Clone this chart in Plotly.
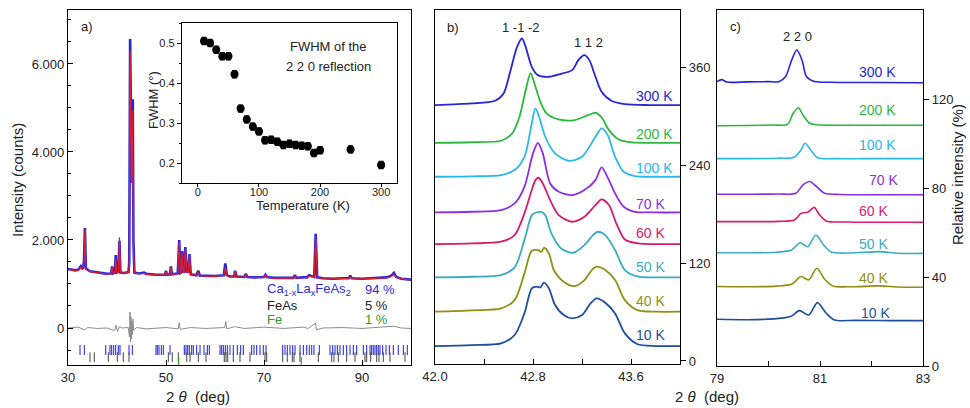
import plotly.graph_objects as go

# ---------------- Panel a: full pattern ----------------
obs_x = [30.0, 31.5, 32.2, 32.6, 33.0, 33.25, 33.45, 33.65, 34.5, 36.0, 38.0, 38.8, 39.0, 39.2, 39.55, 39.75,
         39.95, 40.3, 40.5, 40.7, 41.5, 42.35, 42.5, 42.68, 42.85, 42.98, 43.1, 43.22, 43.35, 43.55, 44.5,
         45.5, 46.0, 48.0, 49.8, 50.0, 50.2, 50.8, 51.0, 51.2, 52.4, 52.7, 52.95, 53.1, 53.3, 53.55, 53.7,
         53.95, 54.25, 54.6, 54.8, 55.05, 56.2, 56.6, 56.9, 58.0, 60.0, 61.8, 62.1, 62.4, 63.0, 63.9, 64.1,
         64.4, 66.0, 66.3, 66.6, 68.0, 70.0, 70.3, 70.6, 72.0, 74.0, 76.0, 76.3, 76.6, 78.0, 78.8, 79.2,
         80.25, 80.55, 80.85, 82.0, 84.0, 86.0, 87.3, 87.6, 87.9, 90.0, 92.0, 93.0, 95.0, 96.0, 96.5, 97.0,
         98.0, 100.0]
obs_y = [1340, 1310, 1330, 1400, 1340, 1500, 2270, 1350, 1290, 1270, 1230, 1240, 1400, 1240, 1260, 1660,
         1260, 1280, 1980, 1260, 1250, 1270, 1500, 6570, 4000, 3300, 4200, 5200, 2000, 1260, 1240,
         1260, 1230, 1210, 1210, 1300, 1210, 1220, 1400, 1220, 1240, 2000, 1250, 1260, 1750, 1260, 1280,
         1840, 1280, 1280, 1680, 1220, 1200, 1300, 1190, 1190, 1180, 1200, 1470, 1200, 1170, 1170, 1300,
         1170, 1160, 1230, 1160, 1150, 1160, 1210, 1160, 1140, 1140, 1140, 1200, 1140, 1150, 1150, 1200,
         1160, 2140, 1150, 1130, 1120, 1130, 1130, 1190, 1130, 1120, 1130, 1150, 1150, 1190, 1250, 1160,
         1120, 1100]
calc_y = [1330, 1300, 1320, 1380, 1330, 1480, 2230, 1330, 1280, 1260, 1225, 1235, 1380, 1235, 1255, 1580,
          1255, 1275, 2060, 1255, 1245, 1265, 1450, 6300, 3800, 3300, 4000, 4950, 1900, 1250, 1235,
          1240, 1225, 1205, 1205, 1280, 1205, 1215, 1380, 1215, 1235, 1960, 1245, 1255, 1700, 1255, 1270,
          1800, 1270, 1270, 1650, 1215, 1195, 1270, 1185, 1185, 1175, 1195, 1380, 1195, 1165, 1165, 1290,
          1165, 1155, 1210, 1155, 1145, 1155, 1195, 1155, 1135, 1135, 1135, 1180, 1135, 1145, 1145, 1180,
          1155, 2100, 1145, 1125, 1115, 1125, 1125, 1170, 1125, 1115, 1125, 1140, 1140, 1170, 1220, 1150,
          1115, 1095]
diff_x = [30, 32, 33.4, 34, 36, 38, 39.5, 39.8, 40.1, 40.5, 41, 42.3, 42.55, 42.65, 42.75, 42.85, 42.95,
          43.05, 43.15, 43.25, 43.4, 44, 46, 48, 50, 52.5, 52.7, 52.9, 55, 58, 60, 62, 62.2, 62.4, 64, 66,
          70, 74, 78, 79, 80.5, 80.7, 82, 86, 90, 94, 96.5, 98, 100]
diff_y = [0, 20, -40, 10, -10, 0, -60, 60, -80, 30, 0, 10, -200, 360, -320, 250, -250, 150, -150, 200,
          -50, 10, -20, 0, 10, -20, 120, -30, 10, -10, 0, 10, 150, -20, 30, -10, 20, -10, 20, -10, 110,
          -40, 0, 10, -10, 20, 40, 0, -10]
ticks_main = [32.45, 33.33, 37.69, 38.57, 38.91, 39.32, 39.73, 40.27, 40.61, 42.45, 43.13, 47.96, 48.23,
              48.57, 49.05, 49.46, 50.82, 53.74, 54.08, 54.42, 54.76, 55.24, 55.58, 56.26, 56.94, 57.76,
              58.44, 58.84, 61.02, 61.36, 61.70, 62.11, 62.52, 63.06, 63.74, 64.56, 65.24, 65.78, 67.48,
              67.96, 68.50, 69.18, 69.86, 70.41, 73.81, 74.29, 74.76, 75.31, 75.85, 76.33, 77.35, 78.03,
              78.71, 79.25, 79.73, 80.20, 81.29, 83.47, 84.01, 84.49, 84.97, 85.51, 86.19, 86.87, 87.55,
              88.23, 88.91, 90.27, 90.95, 91.63, 91.97, 92.31, 92.65, 92.99, 93.33, 93.67, 94.22, 94.90,
              95.58, 96.39, 97.41, 98.44, 99.25]
ticks_feas = [34.49, 35.37, 38.23, 40.07, 41.29, 42.45, 50.48, 51.29, 52.52, 54.22, 54.90, 56.60, 58.16,
              61.90, 62.24, 62.59, 63.74, 65.10, 67.14, 70.20, 70.54, 73.81, 74.76, 75.78, 76.12, 77.35,
              81.09, 83.81, 84.29, 85.17, 86.87, 88.57, 90.61, 90.95, 91.77, 92.99, 93.47, 94.35, 95.71,
              98.78]
ticks_fe = [52.6, 77.6]
phase_names = ["Ca<sub>1-x</sub>La<sub>x</sub>FeAs<sub>2</sub>", "FeAs", "Fe"]
phase_pct = ["94 %", "5 %", "1 %"]

# ---------------- Inset: FWHM ----------------
fwhm_T = [10, 20, 30, 40, 50, 60, 70, 80, 90, 100, 110, 120, 130, 140, 150, 160, 170, 180, 190, 200, 250, 300]
fwhm_v = [0.505, 0.500, 0.483, 0.467, 0.467, 0.422, 0.336, 0.309, 0.291, 0.279, 0.257, 0.258, 0.253,
          0.245, 0.248, 0.245, 0.243, 0.242, 0.225, 0.232, 0.234, 0.195]
fwhm_err = [0.008] * len(fwhm_T)

# ---------------- Panel b: 1 -1 -2 / 1 1 2 ----------------
temps = ["300 K", "200 K", "100 K", "70 K", "60 K", "50 K", "40 K", "10 K"]
b300_x = [42.00, 42.30, 42.49, 42.56, 42.61, 42.67, 42.71, 42.74, 42.79, 42.84, 42.93, 43.02, 43.12, 43.17, 43.22, 43.26, 43.31, 43.36, 43.44, 43.55, 43.75, 44.00]
b300_y = [313.5, 315.5, 318.8, 327.8, 352.2, 384.9, 395.1, 384.9, 360.4, 350.2, 348.2, 351.4, 356.3, 368.6, 374.7, 368.6, 348.2, 329.8, 318.8, 314.7, 313.5, 313.5]
b200_x = [42.00, 42.30, 42.54, 42.63, 42.69, 42.74, 42.78, 42.82, 42.86, 42.91, 43.01, 43.14, 43.25, 43.31, 43.36, 43.42, 43.50, 43.61, 43.80, 44.00]
b200_y = [267.3, 268.0, 269.8, 278.8, 299.2, 331.8, 352.5, 335.9, 317.5, 303.3, 295.9, 295.1, 301.2, 304.1, 298.4, 282.8, 271.4, 267.7, 267.3, 267.3]
b100_x = [42.00, 42.30, 42.54, 42.65, 42.73, 42.79, 42.82, 42.85, 42.90, 42.98, 43.09, 43.20, 43.31, 43.36, 43.41, 43.47, 43.54, 43.63, 43.80, 44.00]
b100_y = [225.7, 226.2, 227.7, 233.9, 250.2, 291.0, 309.4, 299.2, 274.7, 254.3, 245.3, 250.2, 274.7, 284.9, 276.7, 250.2, 231.8, 226.5, 225.7, 225.7]
b70_x = [42.00, 42.30, 42.54, 42.65, 42.73, 42.80, 42.84, 42.88, 42.94, 43.01, 43.12, 43.22, 43.31, 43.36, 43.42, 43.47, 43.54, 43.63, 43.80, 44.00]
b70_y = [182.0, 182.8, 184.9, 193.0, 213.4, 254.3, 267.3, 254.3, 217.5, 207.3, 203.2, 209.4, 221.6, 237.2, 221.6, 205.3, 188.9, 182.8, 182.0, 182.0]
b60_x = [42.00, 42.30, 42.54, 42.65, 42.73, 42.79, 42.82, 42.845, 42.88, 42.94, 43.01, 43.12, 43.22, 43.31, 43.36, 43.42, 43.48, 43.55, 43.66, 43.80, 44.00]
b60_y = [143.2, 144.0, 146.1, 154.2, 180.8, 209.4, 221.6, 224.5, 217.5, 197.1, 178.7, 170.6, 176.7, 191.0, 197.9, 191.0, 168.5, 148.9, 144.0, 143.2, 143.2]
b50_x = [42.00, 42.30, 42.54, 42.65, 42.73, 42.79, 42.82, 42.87, 42.90, 42.95, 43.03, 43.13, 43.22, 43.29, 43.33, 43.39, 43.47, 43.55, 43.66, 43.80, 44.00]
b50_y = [102.4, 103.2, 105.3, 114.7, 148.1, 178.7, 181.6, 182.4, 178.7, 156.3, 137.9, 132.6, 142.0, 154.2, 158.3, 154.2, 135.9, 111.4, 103.2, 102.4, 102.4]
b40_x = [42.00, 42.30, 42.54, 42.65, 42.73, 42.79, 42.84, 42.87, 42.89, 42.93, 42.97, 43.05, 43.14, 43.22, 43.28, 43.32, 43.39, 43.47, 43.55, 43.65, 43.80, 44.00]
b40_y = [60.4, 62.0, 64.4, 74.6, 107.3, 135.1, 135.9, 133.8, 138.7, 131.8, 111.4, 97.1, 91.8, 99.1, 111.4, 115.5, 111.4, 99.1, 74.6, 62.4, 60.4, 60.4]
b10_x = [42.00, 42.30, 42.54, 42.65, 42.73, 42.79, 42.83, 42.86, 42.89, 42.93, 42.98, 43.05, 43.12, 43.20, 43.27, 43.32, 43.39, 43.47, 43.55, 43.65, 43.80, 44.00]
b10_y = [18.3, 19.5, 21.6, 31.8, 58.3, 89.0, 91.0, 90.2, 95.9, 89.0, 68.5, 56.3, 52.2, 56.3, 70.6, 76.7, 71.4, 58.3, 33.8, 20.8, 18.3, 18.3]

# ---------------- Panel c: 2 2 0 ----------------
c300_x = [79.00, 79.09, 79.19, 79.60, 80.00, 80.20, 80.33, 80.45, 80.55, 80.65, 80.74, 80.89, 81.20, 82.00, 83.00]
c300_y = [127.8, 128.7, 127.6, 127.7, 127.8, 127.8, 130.0, 137.5, 142.0, 137.5, 130.0, 127.9, 127.5, 127.4, 127.3]
c200_x = [79.00, 79.60, 80.10, 80.37, 80.48, 80.58, 80.67, 80.80, 80.95, 81.40, 82.20, 83.00]
c200_y = [108.0, 108.1, 108.3, 108.6, 113.6, 116.1, 112.8, 109.1, 108.4, 108.2, 108.2, 108.2]
c100_x = [79.00, 79.60, 80.20, 80.50, 80.63, 80.71, 80.82, 80.95, 81.30, 82.20, 83.00]
c100_y = [93.2, 93.2, 93.4, 93.8, 97.1, 100.1, 97.1, 93.6, 93.2, 93.2, 93.2]
c70_x = [79.00, 79.60, 80.20, 80.53, 80.67, 80.80, 80.92, 81.09, 81.40, 82.20, 83.00]
c70_y = [77.2, 77.2, 77.3, 77.6, 81.4, 82.9, 80.9, 77.6, 77.1, 77.0, 77.0]
c60_x = [79.00, 79.60, 80.20, 80.50, 80.63, 80.76, 80.89, 80.97, 81.12, 81.50, 82.20, 83.00]
c60_y = [64.9, 64.9, 65.0, 65.6, 68.6, 69.1, 71.3, 68.6, 65.2, 64.7, 64.6, 64.6]
c50_x = [79.00, 79.60, 80.15, 80.45, 80.61, 80.76, 80.92, 81.07, 81.22, 81.60, 82.16, 82.50, 83.00]
c50_y = [50.9, 50.9, 51.1, 52.1, 55.4, 53.6, 58.9, 54.4, 51.2, 50.8, 51.4, 50.7, 50.6]
c40_x = [79.00, 79.60, 80.15, 80.46, 80.63, 80.78, 80.94, 81.09, 81.25, 81.60, 82.16, 82.50, 83.00]
c40_y = [35.7, 35.6, 35.9, 36.9, 40.2, 38.7, 43.9, 39.0, 36.0, 35.6, 36.0, 35.5, 35.4]
c10_x = [79.00, 79.60, 80.10, 80.43, 80.60, 80.78, 80.95, 81.12, 81.28, 81.70, 82.40, 83.00]
c10_y = [21.0, 20.8, 21.2, 22.2, 24.9, 22.9, 28.5, 23.7, 20.7, 20.5, 20.4, 20.4]

colors = ["#2626d8", "#2cb83c", "#2ab8ea", "#8c2ee2", "#d81a6c", "#3aabc2", "#8f8f14", "#1d4f9b"]

b_x = [b300_x, b200_x, b100_x, b70_x, b60_x, b50_x, b40_x, b10_x]
b_y = [b300_y, b200_y, b100_y, b70_y, b60_y, b50_y, b40_y, b10_y]
c_x = [c300_x, c200_x, c100_x, c70_x, c60_x, c50_x, c40_x, c10_x]
c_y = [c300_y, c200_y, c100_y, c70_y, c60_y, c50_y, c40_y, c10_y]

W, H = 970, 408
def fx(p):
    return p / W
def fy(p):
    return 1 - p / H

FONT = "Liberation Sans, Arial, sans-serif"
fig = go.Figure()

# panel a traces
fig.add_trace(go.Scatter(x=obs_x, y=obs_y, mode="lines", line=dict(color="#2323e0", width=2.6),
                         xaxis="x", yaxis="y", hoverinfo="skip"))
fig.add_trace(go.Scatter(x=obs_x, y=calc_y, mode="lines", line=dict(color="#e0202a", width=1.2),
                         xaxis="x", yaxis="y", hoverinfo="skip"))
fig.add_trace(go.Scatter(x=diff_x, y=diff_y, mode="lines", line=dict(color="#8c8c8c", width=1),
                         xaxis="x", yaxis="y", hoverinfo="skip"))
for tx, ty, col in [(ticks_main, -500, "#3232e0"), (ticks_feas, -660, "#555555"), (ticks_fe, -770, "#2a9a2a")]:
    fig.add_trace(go.Scatter(x=tx, y=[ty] * len(tx), mode="markers",
                             marker=dict(symbol="line-ns", size=7, line=dict(width=1.1, color=col)),
                             xaxis="x", yaxis="y", hoverinfo="skip"))

# inset
fig.add_trace(go.Scatter(x=fwhm_T, y=fwhm_v, mode="markers",
                         marker=dict(color="black", size=8),
                         error_y=dict(type="data", array=fwhm_err, color="black", thickness=2, width=2.5),
                         xaxis="x2", yaxis="y2", hoverinfo="skip"))

# panel b and c
for i in range(len(temps)):
    fig.add_trace(go.Scatter(x=b_x[i], y=b_y[i], mode="lines", line=dict(color=colors[i], width=1.8, shape="spline", smoothing=0.8),
                             xaxis="x3", yaxis="y3", hoverinfo="skip"))
    fig.add_trace(go.Scatter(x=c_x[i], y=c_y[i], mode="lines", line=dict(color=colors[i], width=1.6, shape="spline", smoothing=0.8),
                             xaxis="x4", yaxis="y4", hoverinfo="skip"))

def axc(size=13):
    return dict(showline=True, mirror=True, linecolor="black", linewidth=1.3, showgrid=False,
                zeroline=False, tickcolor="black", automargin=False,
                tickfont=dict(size=size, color="#222", family=FONT))

layout = dict(
    template="none",
    width=W, height=H, margin=dict(l=0, r=0, t=0, b=0, pad=0), showlegend=False,
    paper_bgcolor="white", plot_bgcolor="white", font=dict(family=FONT, color="#222"),
    xaxis=dict(domain=[fx(68), fx(411)], range=[30, 100], anchor="y", tickvals=[30, 50, 70, 90],
               ticks="inside", ticklen=5, **axc()),
    yaxis=dict(domain=[fy(365), fy(10)], range=[-841, 7227], anchor="x", tickvals=[0, 2000, 4000, 6000],
               ticktext=["0", "2.000", "4.000", "6.000"], ticks="inside", ticklen=5,
               minor=dict(dtick=500, tick0=0, ticks="inside", ticklen=3, tickcolor="black"), **axc()),
    xaxis2=dict(domain=[fx(182), fx(397)], range=[-26, 326], anchor="y2", tickvals=[0, 100, 200, 300],
                ticks="outside", ticklen=3, ticklabelstandoff=-4, **axc(11)),
    yaxis2=dict(domain=[fy(183), fy(23)], range=[0.15, 0.55], anchor="x2", tickvals=[0.2, 0.3, 0.4, 0.5],
                ticktext=["0.2", "0.3", "0.4", "0.5"], ticks="outside", ticklen=4,
                minor=dict(dtick=0.05, tick0=0, ticks="outside", ticklen=2, tickcolor="black"), **axc(11)),
    xaxis3=dict(domain=[fx(435), fx(680)], range=[42.0, 44.0], anchor="y3",
                tickvals=[42.0, 42.8, 43.6], ticktext=["42.0", "42.8", "43.6"],
                minor=dict(tickvals=[42.4, 43.2], ticks="inside", ticklen=5, tickcolor="black"),
                ticks="inside", ticklen=5, **axc()),
    yaxis3=dict(domain=[fy(364), fy(10)], range=[-3.7, 430], anchor="x3", side="right",
                tickvals=[0, 120, 240, 360], ticks="outside", ticklen=5, **axc()),
    xaxis4=dict(domain=[fx(717), fx(923)], range=[79, 83], anchor="y4",
                tickvals=[79, 81, 83], ticktext=["79", "81", "83"],
                minor=dict(tickvals=[80, 82], ticks="inside", ticklen=5, tickcolor="black"),
                ticks="inside", ticklen=5, **axc()),
    yaxis4=dict(domain=[fy(366), fy(10)], range=[0, 160], anchor="x4", side="right",
                tickvals=[0, 40, 80, 120], ticks="outside", ticklen=5, **axc()),
)
fig.update_layout(**layout)

ann = []
def A(text, x, y, size=13, color="#222", xanchor="center", angle=0):
    ann.append(dict(text=text, x=fx(x), y=fy(y), xref="paper", yref="paper", showarrow=False,
                    xanchor=xanchor, yanchor="middle", textangle=angle,
                    font=dict(size=size, color=color, family=FONT)))

# panel a labels
A("a)", 79, 27, 13, xanchor="left")
A("Intensity (counts)", 17, 180, 15, angle=-90)
A("2 <i>θ</i>\u00a0 (deg)", 198, 396, 15)
pcols = ["#2a2ae0", "#222222", "#2a9a2a"]
for i, yy in enumerate([289, 305, 319]):
    A(phase_names[i], 265, yy, 13, pcols[i], xanchor="left")
    A(phase_pct[i], 363, yy, 13, pcols[i], xanchor="left")
# inset labels
A("FWHM of the", 328, 46, 13)
A("2 2 0 reflection", 328, 67, 13)
A("FWHM (°)", 153, 100, 13, angle=-90)
A("Temperature (K)", 303, 205, 13)
# panel b labels
A("b)", 445, 28, 13, xanchor="left")
A("1 -1 -2", 521, 28, 13)
A("1 1 2", 588, 43, 13)
for i, yy in enumerate([96, 134, 168, 204, 233, 267, 301, 335]):
    A(temps[i], 634, yy, 14, colors[i], xanchor="left")
# panel c labels
A("c)", 728, 27, 13, xanchor="left")
A("2 2 0", 797, 36, 13)
cx = [857, 857, 857, 867, 857, 857, 857, 859]
for i, yy in enumerate([72, 110, 145, 180, 211, 244, 278, 313]):
    A(temps[i], cx[i], yy, 14, colors[i], xanchor="left")
A("2 <i>θ</i>\u00a0 (deg)", 707, 396, 15)
A("Relative intensity (%)", 957, 175, 15, angle=-90)

fig.update_layout(annotations=ann)
fig.write_html("out.html", config={"displayModeBar": False},
               post_script="document.body.style.margin='0px';document.body.style.overflow='hidden';")
